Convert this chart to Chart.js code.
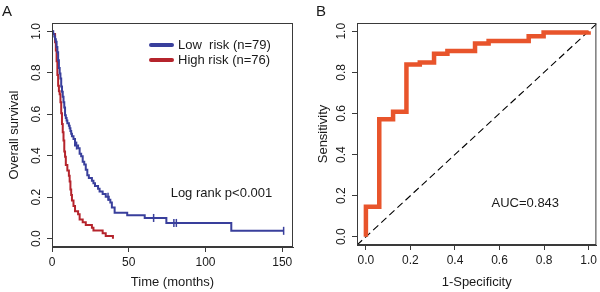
<!DOCTYPE html>
<html>
<head>
<meta charset="utf-8">
<script src="https://cdn.jsdelivr.net/npm/chart.js@4.4.1/dist/chart.umd.min.js"></script>
<style>
  body { margin:0; background:#fff; }
  canvas { position:absolute; top:0; }
  #kmChart { left:0; }
  #rocChart { left:300px; }
</style>
</head>
<body>
<canvas id="kmChart" width="300" height="292"></canvas>
<canvas id="rocChart" width="300" height="292"></canvas>
<script>
// ---- panel A: Kaplan-Meier ----
var lowTime = [0,0.8,1.5,2,2.5,3,3.5,4,4.5,5,5.5,6,6.5,7,7.5,8,8.5,9,9.5,10,11,11.5,12,12.5,13,14,15,17,18,19,20,21,22,23,24,26,27,28,30,31,33,35,37,38,39,40.8,49,60.4,74.5,116.8,151];
var lowSurv = [1,0.987,0.975,0.962,0.949,0.924,0.899,0.861,0.823,0.797,0.772,0.734,0.709,0.684,0.658,0.633,0.595,0.582,0.570,0.557,0.544,0.532,0.519,0.506,0.494,0.481,0.449,0.436,0.410,0.397,0.371,0.358,0.332,0.306,0.293,0.280,0.267,0.254,0.241,0.228,0.215,0.202,0.188,0.175,0.150,0.125,0.113,0.100,0.076,0.038,0.038];
var lowCensTime = [16, 36.5, 66.2, 79.4, 81, 150.9];
var lowCensSurv = [0.449, 0.202, 0.100, 0.076, 0.076, 0.038];

var highTime = [0,0.3,2,2.5,3,3.5,4,4.5,5,5.5,6,6.5,7,7.5,8,8.5,9,10,11,11.5,12,12.5,13,14,15,17,18,20,22,26,27,33,35,39.7];
var highSurv = [1,0.987,0.947,0.908,0.855,0.789,0.737,0.711,0.697,0.658,0.605,0.553,0.513,0.474,0.421,0.395,0.355,0.329,0.303,0.276,0.237,0.211,0.184,0.158,0.132,0.118,0.092,0.079,0.066,0.053,0.039,0.026,0.013,0.0];

var kmXTicks = [0, 50, 100, 150];
var kmYTicks = [0, 0.2, 0.4, 0.6, 0.8, 1.0];
var kmLabels = ['Low  risk (n=79)', 'High risk (n=76)'];
var kmNote = 'Log rank p<0.001';

// ---- panel B: ROC ----
var rocFpr = [0,0.06,0.122,0.182,0.242,0.306,0.366,0.49,0.551,0.731,0.798,1.0,1.0];
var rocTpr = [0,0.146,0.572,0.608,0.838,0.848,0.891,0.904,0.94,0.953,0.976,0.994,1.0];
var rocTicks = [0, 0.2, 0.4, 0.6, 0.8, 1.0];
var rocNote = 'AUC=0.843';

var blue = '#393f9c';
var red = '#b5242c';
var orange = '#e8542b';
var ink = '#1a1a1a';
var axisCol = '#3a3a3a';
var fam = '"Liberation Sans", Arial, sans-serif';

function pts(xs, ys) {
  return xs.map(function (x, i) { return {x: x, y: ys[i]}; });
}

function setTicks(list) {
  return function (scale) { scale.ticks = list.map(function (v) { return {value: v}; }); };
}

// box around the plot area, panel letter, notes, legend
var decor = {
  id: 'decor',
  afterDraw: function (chart) {
    var o = chart.options.plugins.decor;
    var a = chart.chartArea, ctx = chart.ctx;
    ctx.save();
    ctx.strokeStyle = axisCol;
    ctx.lineWidth = 1;
    ctx.strokeRect(a.left + 0.5, a.top + 0.5, a.right - a.left - 1, a.bottom - a.top - 1);
    ctx.fillStyle = ink;
    ctx.font = '15px ' + fam;
    ctx.textBaseline = 'middle';
    ctx.textAlign = 'left';
    ctx.fillText(o.letter, o.letterX, 12);
    ctx.font = '13px ' + fam;
    var xs = chart.scales.x, ys = chart.scales.y;
    ctx.fillText(o.note, xs.getPixelForValue(o.noteX), ys.getPixelForValue(o.noteY));
    if (o.legend) {
      var lx = a.left + 99, ly = a.top + 22;
      o.legend.forEach(function (item, i) {
        ctx.strokeStyle = item.color;
        ctx.lineWidth = 4;
        ctx.lineCap = 'round';
        ctx.beginPath();
        ctx.moveTo(lx, ly + i * 15);
        ctx.lineTo(lx + 21, ly + i * 15);
        ctx.stroke();
        ctx.fillText(item.text, lx + 27, ly + i * 15);
      });
    }
    ctx.restore();
  }
};

function axis(min, max, ticks, title, size, isY, titlePad) {
  var s = {
    type: 'linear', min: min, max: max,
    afterBuildTicks: setTicks(ticks),
    grid: {drawOnChartArea: false, tickLength: 5, color: axisCol},
    border: {color: axisCol},
    ticks: {
      font: {family: fam, size: 12}, color: ink,
      callback: function (v) { return isY || max <= 2 ? v.toFixed(1) : v; }
    },
    title: {display: true, text: title, color: ink, font: {family: fam, size: 13}}
  };
  if (isY) {
    s.afterFit = function (sc) { sc.width = size; };
    s.ticks.minRotation = 90;
    s.ticks.maxRotation = 90;
    s.ticks.crossAlign = 'center';
    s.ticks.padding = 2;
    s.title.padding = {top: titlePad, bottom: 0};
  } else {
    s.afterFit = function (sc) { sc.height = size; };
    s.ticks.maxRotation = 0;
    s.ticks.padding = 3;
    s.title.padding = {top: 0, bottom: titlePad};
  }
  return s;
}

new Chart(document.getElementById('kmChart'), {
  type: 'scatter',
  data: {
    datasets: [
      {data: pts(lowTime, lowSurv), showLine: true, stepped: true, borderColor: blue, borderWidth: 2, pointRadius: 0},
      {data: pts(highTime, highSurv), showLine: true, stepped: true, borderColor: red, borderWidth: 2, pointRadius: 0},
      {data: pts(lowCensTime, lowCensSurv), showLine: false, pointStyle: 'line', rotation: 90, pointRadius: 4, borderColor: blue, borderWidth: 1.5}
    ]
  },
  options: {
    responsive: false, animation: false,
    layout: {padding: {top: 23, right: 7, left: 0, bottom: 0}},
    plugins: {
      legend: {display: false}, tooltip: {enabled: false},
      decor: {letter: 'A', letterX: 2, note: kmNote, noteX: 77.3, noteY: 0.22,
        legend: [{text: kmLabels[0], color: blue}, {text: kmLabels[1], color: red}]}
    },
    scales: {
      x: axis(0, 157, kmXTicks, 'Time (months)', 45, false, 2),
      y: axis(-0.04, 1.04, kmYTicks, 'Overall survival', 52, true, 7)
    }
  },
  plugins: [decor]
});

new Chart(document.getElementById('rocChart'), {
  type: 'scatter',
  data: {
    datasets: [
      {data: pts(rocFpr, rocTpr), showLine: true, stepped: 'after', borderColor: orange, borderWidth: 4.5, pointRadius: 0},
      {data: pts([-0.04, 1.04], [-0.04, 1.04]), showLine: true, borderColor: '#000', borderWidth: 1.1, borderDash: [7, 4], pointRadius: 0}
    ]
  },
  options: {
    responsive: false, animation: false,
    layout: {padding: {top: 23, right: 2, left: 0, bottom: 0}},
    plugins: {
      legend: {display: false}, tooltip: {enabled: false},
      decor: {letter: 'B', letterX: 16, note: rocNote, noteX: 0.564, noteY: 0.164}
    },
    scales: {
      x: axis(-0.04, 1.035, rocTicks, '1-Specificity', 47, false, 2),
      y: axis(-0.04, 1.04, rocTicks, 'Sensitivity', 57, true, 16)
    }
  },
  plugins: [decor]
});
</script>
</body>
</html>
